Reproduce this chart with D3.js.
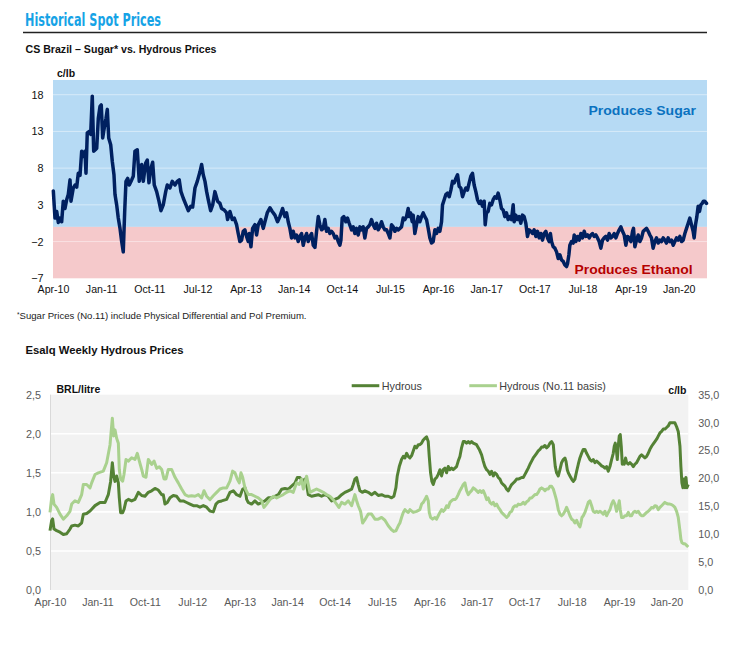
<!DOCTYPE html>
<html><head><meta charset="utf-8">
<script src="https://cdn.jsdelivr.net/npm/d3@7"></script>
<style>
body{margin:0;background:#fff;}
svg{display:block;font-family:"Liberation Sans",Arial,Helvetica,sans-serif;}
</style></head><body>
<svg id="c" width="732" height="647"></svg>
<script>
// ---------- DATA ----------
const tickYears  = [2010.25,2011.0,2011.75,2012.5,2013.25,2014.0,2014.75,2015.5,2016.25,2017.0,2017.75,2018.5,2019.25,2020.0];
const tickLabels = ["Apr-10","Jan-11","Oct-11","Jul-12","Apr-13","Jan-14","Oct-14","Jul-15","Apr-16","Jan-17","Oct-17","Jul-18","Apr-19","Jan-20"];
const sugarTicks = [18,13,8,3,-2,-7];
const brlTicks   = [0,0.5,1,1.5,2,2.5];
const clbTicks   = [0,5,10,15,20,25,30,35];

// Sugar* minus hydrous (c/lb), [decimal year, value]
const sugarPremium = [
[2010.255,4.9],[2010.281,1.2],[2010.308,2.1],[2010.333,0.6],[2010.359,1.2],[2010.385,0.7],[2010.410,3.5],[2010.437,2.5],[2010.463,3.7],[2010.488,4.4],
[2010.515,6.4],[2010.530,3.5],[2010.566,5.3],[2010.593,5.7],[2010.619,5.4],[2010.644,7.3],[2010.671,7.0],[2010.697,10.3],[2010.722,9.6],[2010.748,10.3],
[2010.764,7.3],[2010.784,12.8],[2010.815,13.0],[2010.837,12.6],[2010.862,17.8],[2010.884,10.3],[2010.909,10.5],[2010.931,10.7],[2010.956,14.8],[2010.982,16.4],
[2011.002,16.6],[2011.024,12.1],[2011.049,13.5],[2011.076,14.8],[2011.096,16.0],[2011.118,12.1],[2011.149,11.2],[2011.174,8.9],[2011.200,7.1],[2011.216,4.4],
[2011.242,3.0],[2011.267,1.2],[2011.294,-0.2],[2011.320,-2.0],[2011.345,-3.4],[2011.367,2.1],[2011.387,6.2],[2011.414,6.6],[2011.438,5.7],[2011.476,6.4],
[2011.501,6.9],[2011.527,10.3],[2011.563,10.5],[2011.594,6.2],[2011.632,8.5],[2011.657,6.2],[2011.694,8.7],[2011.719,9.1],[2011.745,6.0],[2011.776,8.0],
[2011.803,8.8],[2011.828,5.7],[2011.865,4.8],[2011.901,3.5],[2011.932,2.2],[2011.968,3.0],[2012.006,4.8],[2012.030,5.7],[2012.072,5.3],[2012.108,6.2],
[2012.150,5.7],[2012.186,6.2],[2012.217,6.4],[2012.244,4.8],[2012.280,3.9],[2012.322,3.0],[2012.358,2.2],[2012.395,2.8],[2012.426,2.7],[2012.462,5.3],
[2012.498,6.2],[2012.540,7.5],[2012.566,8.5],[2012.591,7.1],[2012.618,6.2],[2012.644,4.8],[2012.669,3.7],[2012.706,2.2],[2012.738,3.0],[2012.773,4.8],
[2012.815,3.5],[2012.851,3.2],[2012.877,2.5],[2012.918,2.3],[2012.955,1.9],[2012.970,1.0],[2013.007,2.1],[2013.043,1.0],[2013.074,1.2],[2013.110,0.3],
[2013.136,-0.9],[2013.162,-2.0],[2013.188,-1.8],[2013.214,-0.6],[2013.240,-0.4],[2013.266,-1.3],[2013.292,-2.0],[2013.308,-0.9],[2013.334,-2.7],[2013.360,-0.2],
[2013.396,0.3],[2013.422,-1.1],[2013.448,0.3],[2013.489,1.0],[2013.526,-0.2],[2013.552,0.7],[2013.588,1.9],[2013.630,2.6],[2013.666,2.1],[2013.708,1.6],
[2013.749,0.7],[2013.785,1.4],[2013.827,2.5],[2013.863,1.4],[2013.889,1.9],[2013.915,0.7],[2013.941,-0.2],[2013.967,-1.5],[2013.993,-0.6],[2014.019,-1.5],
[2014.045,-1.1],[2014.071,-2.0],[2014.097,-1.3],[2014.123,-0.9],[2014.149,-2.5],[2014.175,-1.5],[2014.201,-0.9],[2014.227,-2.0],[2014.253,-1.3],[2014.279,-0.9],
[2014.305,-2.5],[2014.331,-2.8],[2014.357,-0.6],[2014.383,1.4],[2014.408,0.3],[2014.434,-0.4],[2014.460,-0.2],[2014.486,1.0],[2014.512,-0.6],[2014.538,-0.2],
[2014.564,-0.9],[2014.590,-0.6],[2014.616,-0.9],[2014.642,-1.5],[2014.668,-1.3],[2014.694,-2.0],[2014.720,-2.5],[2014.736,-1.8],[2014.756,1.2],[2014.782,1.4],
[2014.813,0.7],[2014.839,1.2],[2014.865,0.5],[2014.902,-0.4],[2014.928,0.0],[2014.954,-0.9],[2014.980,-0.2],[2015.006,-1.1],[2015.032,0.0],[2015.057,-0.4],
[2015.083,0.0],[2015.109,-1.5],[2015.135,-0.2],[2015.161,0.0],[2015.187,0.3],[2015.213,1.0],[2015.239,0.3],[2015.265,-0.2],[2015.291,0.5],[2015.317,-0.4],
[2015.343,0.0],[2015.369,0.7],[2015.395,0.0],[2015.421,-0.4],[2015.447,-0.4],[2015.473,-0.9],[2015.499,-1.5],[2015.525,0.3],[2015.551,0.0],[2015.577,-0.6],
[2015.603,-0.2],[2015.629,-0.4],[2015.655,-0.2],[2015.680,0.0],[2015.706,1.2],[2015.732,1.0],[2015.758,1.4],[2015.784,2.5],[2015.800,1.4],[2015.821,1.9],
[2015.847,0.7],[2015.862,1.6],[2015.888,-0.9],[2015.914,0.3],[2015.940,1.4],[2015.966,0.7],[2015.992,1.4],[2016.018,1.9],[2016.044,1.4],[2016.070,1.0],
[2016.096,-0.2],[2016.122,-1.5],[2016.148,-2.2],[2016.174,-2.0],[2016.200,-0.4],[2016.226,-0.9],[2016.252,-0.2],[2016.278,-0.6],[2016.304,0.7],[2016.319,3.0],
[2016.345,3.7],[2016.371,4.4],[2016.397,4.6],[2016.423,4.1],[2016.449,5.0],[2016.475,6.2],[2016.501,6.0],[2016.527,6.6],[2016.553,7.1],[2016.579,5.5],
[2016.605,5.3],[2016.631,4.1],[2016.657,4.8],[2016.683,5.3],[2016.708,5.0],[2016.734,6.0],[2016.760,6.9],[2016.786,7.3],[2016.812,5.7],[2016.838,4.8],
[2016.864,3.7],[2016.890,3.2],[2016.916,3.5],[2016.942,2.8],[2016.968,3.5],[2016.984,0.3],[2017.004,1.9],[2017.030,2.1],[2017.056,3.2],[2017.082,3.0],
[2017.108,3.7],[2017.134,4.1],[2017.160,3.9],[2017.186,4.6],[2017.212,3.7],[2017.238,2.5],[2017.264,2.3],[2017.290,1.4],[2017.316,1.9],[2017.342,1.0],
[2017.368,1.4],[2017.394,1.0],[2017.420,3.0],[2017.435,0.7],[2017.461,1.6],[2017.487,1.0],[2017.513,1.4],[2017.539,0.5],[2017.565,1.6],[2017.591,1.4],
[2017.617,0.5],[2017.643,-1.3],[2017.669,-0.4],[2017.695,-0.6],[2017.721,-0.9],[2017.747,-0.4],[2017.773,-1.3],[2017.799,-0.6],[2017.825,-1.5],[2017.851,-0.9],
[2017.877,-1.8],[2017.903,-0.9],[2017.929,-0.6],[2017.955,-1.5],[2017.981,-2.0],[2018.000,-0.9],[2018.018,-2.0],[2018.044,-2.7],[2018.070,-2.9],[2018.096,-3.4],
[2018.122,-4.3],[2018.148,-3.8],[2018.174,-4.5],[2018.200,-4.7],[2018.226,-5.2],[2018.251,-5.4],[2018.267,-5.0],[2018.288,-3.8],[2018.303,-2.5],[2018.329,-2.0],
[2018.355,-2.2],[2018.371,-1.1],[2018.397,-2.0],[2018.423,-1.3],[2018.449,-1.8],[2018.475,-0.9],[2018.501,-1.5],[2018.527,-0.6],[2018.553,-1.3],[2018.579,-1.1],
[2018.605,-1.5],[2018.630,-1.1],[2018.656,-0.9],[2018.682,-1.3],[2018.708,-1.1],[2018.734,-1.5],[2018.760,-2.0],[2018.786,-2.9],[2018.812,-1.8],[2018.838,-1.5],
[2018.864,-1.3],[2018.890,-1.8],[2018.916,-0.9],[2018.942,-1.5],[2018.968,-1.3],[2018.994,-0.9],[2019.020,-1.5],[2019.046,-0.9],[2019.072,-0.4],[2019.098,0.0],
[2019.124,-0.6],[2019.150,-1.1],[2019.176,-2.5],[2019.202,-1.3],[2019.228,-1.5],[2019.254,-2.0],[2019.280,-0.6],[2019.295,-0.2],[2019.316,-2.7],[2019.342,-1.8],
[2019.368,-1.1],[2019.394,-2.0],[2019.420,-1.5],[2019.446,-0.6],[2019.472,-0.4],[2019.498,-0.2],[2019.524,-0.6],[2019.550,-1.1],[2019.575,-1.5],[2019.601,-2.9],
[2019.627,-2.0],[2019.653,-1.5],[2019.679,-2.2],[2019.705,-1.8],[2019.731,-2.0],[2019.757,-1.5],[2019.783,-1.8],[2019.809,-2.2],[2019.835,-1.5],[2019.861,-2.0],
[2019.887,-1.8],[2019.913,-2.5],[2019.939,-2.0],[2019.965,-1.5],[2019.991,-1.8],[2020.017,-1.3],[2020.043,-2.0],[2020.069,-1.8],[2020.095,-0.9],[2020.121,-0.2],
[2020.147,0.5],[2020.173,1.2],[2020.198,0.3],[2020.224,-0.6],[2020.240,-1.5],[2020.261,0.3],[2020.282,1.4],[2020.302,2.8],[2020.323,2.1],[2020.344,3.0],
[2020.365,3.2],[2020.385,3.5],[2020.406,3.5],[2020.432,3.2]
];

// Esalq hydrous, BRL/litre (left axis)
const hydrousBRL = [
[2010.250,0.76],[2010.276,0.89],[2010.292,0.91],[2010.313,0.78],[2010.355,0.76],[2010.408,0.74],[2010.461,0.71],[2010.514,0.72],[2010.566,0.78],[2010.593,0.82],
[2010.645,0.83],[2010.698,0.82],[2010.751,0.86],[2010.777,0.97],[2010.830,0.98],[2010.883,1.01],[2010.962,1.08],[2011.041,1.12],[2011.120,1.12],[2011.172,1.22],
[2011.209,1.39],[2011.236,1.63],[2011.257,1.46],[2011.278,1.39],[2011.304,1.46],[2011.331,1.37],[2011.346,1.18],[2011.367,0.99],[2011.399,0.99],[2011.420,1.03],
[2011.452,1.14],[2011.489,1.16],[2011.541,1.14],[2011.594,1.16],[2011.647,1.25],[2011.700,1.21],[2011.752,1.20],[2011.805,1.25],[2011.858,1.27],[2011.910,1.30],
[2011.963,1.28],[2012.016,1.22],[2012.042,1.22],[2012.068,1.10],[2012.105,1.12],[2012.148,1.18],[2012.200,1.21],[2012.253,1.20],[2012.306,1.14],[2012.358,1.14],
[2012.411,1.12],[2012.464,1.10],[2012.517,1.08],[2012.569,1.08],[2012.622,1.06],[2012.675,1.08],[2012.727,1.06],[2012.780,1.01],[2012.833,1.00],[2012.875,1.10],
[2012.912,1.13],[2012.965,1.14],[2013.044,1.16],[2013.096,1.25],[2013.149,1.27],[2013.202,1.22],[2013.254,1.20],[2013.297,1.29],[2013.333,1.31],[2013.360,1.16],
[2013.386,1.12],[2013.438,1.10],[2013.491,1.14],[2013.544,1.10],[2013.597,1.12],[2013.649,1.14],[2013.702,1.18],[2013.755,1.18],[2013.807,1.20],[2013.860,1.22],
[2013.913,1.29],[2013.966,1.30],[2014.018,1.29],[2014.071,1.33],[2014.124,1.37],[2014.161,1.44],[2014.203,1.44],[2014.245,1.39],[2014.282,1.42],[2014.308,1.35],
[2014.335,1.22],[2014.387,1.20],[2014.440,1.21],[2014.493,1.22],[2014.545,1.20],[2014.598,1.22],[2014.651,1.20],[2014.704,1.14],[2014.756,1.16],[2014.809,1.18],
[2014.862,1.22],[2014.914,1.25],[2014.967,1.27],[2015.020,1.29],[2015.046,1.35],[2015.072,1.42],[2015.099,1.44],[2015.125,1.35],[2015.152,1.27],[2015.194,1.25],
[2015.231,1.27],[2015.283,1.25],[2015.336,1.22],[2015.389,1.25],[2015.442,1.21],[2015.494,1.22],[2015.547,1.20],[2015.600,1.20],[2015.652,1.18],[2015.689,1.20],
[2015.721,1.31],[2015.742,1.46],[2015.774,1.58],[2015.810,1.67],[2015.837,1.71],[2015.863,1.69],[2015.890,1.75],[2015.916,1.71],[2015.942,1.69],[2015.969,1.72],
[2015.995,1.78],[2016.021,1.84],[2016.048,1.82],[2016.074,1.86],[2016.100,1.86],[2016.127,1.88],[2016.153,1.92],[2016.179,1.94],[2016.206,1.96],[2016.232,1.90],
[2016.248,1.71],[2016.269,1.50],[2016.290,1.39],[2016.311,1.35],[2016.338,1.42],[2016.364,1.44],[2016.390,1.48],[2016.417,1.54],[2016.443,1.46],[2016.469,1.54],
[2016.496,1.56],[2016.522,1.50],[2016.548,1.58],[2016.575,1.54],[2016.601,1.56],[2016.627,1.54],[2016.654,1.56],[2016.680,1.58],[2016.706,1.65],[2016.733,1.71],
[2016.759,1.82],[2016.786,1.90],[2016.812,1.90],[2016.838,1.88],[2016.865,1.90],[2016.891,1.88],[2016.917,1.90],[2016.944,1.88],[2016.996,1.86],[2017.039,1.80],
[2017.076,1.73],[2017.102,1.65],[2017.128,1.58],[2017.155,1.54],[2017.182,1.52],[2017.208,1.48],[2017.234,1.52],[2017.261,1.46],[2017.287,1.50],[2017.314,1.48],
[2017.340,1.44],[2017.366,1.42],[2017.393,1.37],[2017.419,1.35],[2017.445,1.33],[2017.472,1.29],[2017.498,1.27],[2017.524,1.31],[2017.551,1.35],[2017.577,1.37],
[2017.603,1.39],[2017.630,1.42],[2017.656,1.42],[2017.683,1.43],[2017.709,1.44],[2017.735,1.44],[2017.762,1.48],[2017.788,1.52],[2017.814,1.56],[2017.841,1.61],
[2017.867,1.65],[2017.893,1.69],[2017.920,1.72],[2017.946,1.75],[2017.972,1.78],[2017.999,1.80],[2018.025,1.83],[2018.051,1.83],[2018.078,1.85],[2018.104,1.82],
[2018.131,1.84],[2018.157,1.88],[2018.183,1.90],[2018.210,1.86],[2018.225,1.71],[2018.241,1.58],[2018.262,1.50],[2018.289,1.46],[2018.315,1.54],[2018.341,1.63],
[2018.368,1.67],[2018.394,1.69],[2018.410,1.65],[2018.431,1.54],[2018.447,1.50],[2018.473,1.46],[2018.500,1.42],[2018.526,1.39],[2018.552,1.42],[2018.579,1.52],
[2018.605,1.61],[2018.631,1.69],[2018.658,1.75],[2018.684,1.80],[2018.710,1.80],[2018.737,1.75],[2018.763,1.71],[2018.789,1.67],[2018.816,1.65],[2018.842,1.67],
[2018.868,1.63],[2018.895,1.65],[2018.921,1.63],[2018.948,1.61],[2018.974,1.59],[2019.000,1.58],[2019.027,1.56],[2019.053,1.58],[2019.079,1.52],[2019.106,1.58],
[2019.132,1.67],[2019.158,1.75],[2019.174,1.84],[2019.190,1.88],[2019.206,1.80],[2019.222,1.67],[2019.237,1.84],[2019.253,1.97],[2019.269,1.99],[2019.285,1.84],
[2019.301,1.61],[2019.317,1.63],[2019.332,1.61],[2019.353,1.69],[2019.369,1.63],[2019.396,1.61],[2019.422,1.63],[2019.448,1.61],[2019.475,1.58],[2019.501,1.61],
[2019.527,1.63],[2019.554,1.67],[2019.580,1.71],[2019.606,1.73],[2019.633,1.71],[2019.659,1.69],[2019.686,1.71],[2019.712,1.75],[2019.738,1.80],[2019.765,1.84],
[2019.791,1.87],[2019.817,1.90],[2019.844,1.93],[2019.870,1.97],[2019.896,2.01],[2019.923,2.03],[2019.949,2.06],[2019.975,2.06],[2020.002,2.08],[2020.028,2.10],
[2020.054,2.14],[2020.081,2.14],[2020.107,2.14],[2020.133,2.14],[2020.160,2.09],[2020.186,2.03],[2020.213,1.84],[2020.228,1.58],[2020.244,1.37],[2020.260,1.31],
[2020.276,1.42],[2020.292,1.31],[2020.308,1.44],[2020.323,1.31],[2020.344,1.35]
];

// Hydrous on No.11 basis, c/lb (right axis)
const hydrousNo11 = [
[2010.250,13.9],[2010.276,16.5],[2010.292,17.1],[2010.313,15.4],[2010.355,14.8],[2010.408,13.6],[2010.461,12.7],[2010.514,13.3],[2010.566,14.1],[2010.593,15.4],
[2010.645,16.0],[2010.698,15.7],[2010.751,17.1],[2010.777,18.9],[2010.830,18.9],[2010.883,18.3],[2010.909,19.2],[2010.962,20.7],[2011.014,21.0],[2011.093,21.3],
[2011.146,22.8],[2011.199,26.0],[2011.236,30.8],[2011.257,27.6],[2011.278,28.7],[2011.304,27.2],[2011.331,26.3],[2011.346,21.6],[2011.367,19.9],[2011.399,19.5],
[2011.420,20.7],[2011.452,23.4],[2011.489,23.1],[2011.541,23.7],[2011.594,23.4],[2011.631,24.5],[2011.663,23.1],[2011.700,21.6],[2011.726,20.4],[2011.768,20.2],
[2011.805,23.4],[2011.858,22.5],[2011.895,23.1],[2011.937,21.8],[2011.979,22.1],[2012.016,21.6],[2012.053,19.9],[2012.084,19.9],[2012.121,21.6],[2012.174,21.6],
[2012.227,20.2],[2012.279,19.2],[2012.332,18.1],[2012.385,17.1],[2012.437,16.8],[2012.490,16.9],[2012.543,16.8],[2012.596,17.1],[2012.648,16.5],[2012.685,17.8],
[2012.727,16.8],[2012.780,16.2],[2012.833,16.9],[2012.886,17.5],[2012.938,18.1],[2012.991,18.3],[2013.044,18.3],[2013.096,19.5],[2013.138,21.3],[2013.175,21.0],
[2013.212,19.9],[2013.244,19.2],[2013.270,21.0],[2013.297,20.2],[2013.333,18.3],[2013.386,17.1],[2013.438,17.1],[2013.491,16.8],[2013.544,16.5],[2013.597,16.0],
[2013.634,14.8],[2013.676,15.4],[2013.728,16.2],[2013.781,16.8],[2013.834,16.5],[2013.887,16.8],[2013.939,17.1],[2013.992,17.5],[2014.045,17.8],[2014.097,17.5],
[2014.150,19.2],[2014.192,18.9],[2014.229,19.9],[2014.256,18.1],[2014.282,19.2],[2014.308,20.4],[2014.335,18.9],[2014.361,17.5],[2014.414,17.8],[2014.466,18.1],
[2014.519,17.8],[2014.572,17.5],[2014.624,17.1],[2014.677,16.8],[2014.730,16.2],[2014.783,15.4],[2014.819,14.8],[2014.862,15.7],[2014.914,15.4],[2014.967,16.0],
[2015.020,15.1],[2015.072,17.1],[2015.099,16.0],[2015.125,15.1],[2015.162,14.1],[2015.194,12.0],[2015.231,12.6],[2015.283,13.6],[2015.336,13.6],[2015.389,12.7],
[2015.442,12.7],[2015.494,13.0],[2015.547,12.5],[2015.600,11.5],[2015.652,10.8],[2015.689,10.5],[2015.721,10.6],[2015.758,11.5],[2015.784,12.0],[2015.810,13.0],
[2015.837,13.9],[2015.863,14.4],[2015.890,14.1],[2015.916,13.9],[2015.942,14.4],[2015.995,13.9],[2016.048,14.1],[2016.100,14.4],[2016.127,15.4],[2016.153,15.7],
[2016.179,16.2],[2016.206,16.8],[2016.232,16.0],[2016.248,13.9],[2016.269,13.0],[2016.301,12.7],[2016.338,13.0],[2016.364,12.7],[2016.390,13.3],[2016.417,13.9],
[2016.443,14.4],[2016.469,14.1],[2016.496,14.4],[2016.522,15.1],[2016.548,14.8],[2016.575,15.7],[2016.601,16.0],[2016.627,16.2],[2016.654,16.2],[2016.680,16.5],
[2016.706,17.1],[2016.733,17.8],[2016.759,18.3],[2016.786,18.9],[2016.812,19.2],[2016.838,17.8],[2016.865,17.1],[2016.891,17.5],[2016.917,17.8],[2016.944,18.3],
[2016.970,18.1],[2016.996,17.8],[2017.023,17.5],[2017.050,17.8],[2017.076,17.5],[2017.103,17.8],[2017.129,17.1],[2017.155,16.2],[2017.182,16.5],[2017.208,15.7],
[2017.234,15.4],[2017.261,15.7],[2017.287,15.1],[2017.314,15.4],[2017.340,14.8],[2017.366,14.4],[2017.393,13.9],[2017.419,13.6],[2017.445,13.3],[2017.472,13.0],
[2017.498,13.3],[2017.524,13.9],[2017.551,14.1],[2017.577,14.8],[2017.603,15.1],[2017.630,15.0],[2017.656,15.4],[2017.683,15.3],[2017.709,15.4],[2017.735,15.7],
[2017.762,15.4],[2017.788,15.8],[2017.814,16.0],[2017.841,16.5],[2017.867,16.5],[2017.893,16.8],[2017.920,17.1],[2017.946,17.1],[2017.972,17.5],[2017.999,18.1],
[2018.025,18.3],[2018.051,18.1],[2018.078,17.8],[2018.104,18.1],[2018.131,18.1],[2018.157,18.6],[2018.183,18.6],[2018.210,18.1],[2018.236,17.1],[2018.262,16.0],
[2018.289,14.4],[2018.315,13.6],[2018.341,13.3],[2018.368,13.6],[2018.394,14.1],[2018.420,14.8],[2018.447,14.1],[2018.473,13.3],[2018.500,12.7],[2018.526,12.5],
[2018.552,12.0],[2018.579,12.5],[2018.605,11.8],[2018.631,11.3],[2018.647,12.0],[2018.663,13.0],[2018.684,13.3],[2018.710,13.9],[2018.737,14.8],[2018.763,15.7],
[2018.789,16.0],[2018.816,15.1],[2018.842,14.1],[2018.868,13.9],[2018.895,14.1],[2018.921,13.9],[2018.948,14.1],[2018.974,13.9],[2019.000,13.6],[2019.027,14.1],
[2019.053,13.3],[2019.079,13.9],[2019.106,14.4],[2019.132,15.4],[2019.158,16.0],[2019.185,15.4],[2019.211,14.1],[2019.237,15.1],[2019.253,16.0],[2019.269,14.4],
[2019.290,13.0],[2019.317,13.0],[2019.343,13.3],[2019.369,13.3],[2019.396,13.9],[2019.422,13.3],[2019.448,13.3],[2019.475,13.9],[2019.501,14.1],[2019.527,13.9],
[2019.554,14.1],[2019.580,13.6],[2019.606,13.3],[2019.633,13.3],[2019.659,13.6],[2019.686,13.9],[2019.712,14.1],[2019.738,14.4],[2019.765,14.8],[2019.791,14.7],
[2019.817,15.1],[2019.844,15.0],[2019.870,14.4],[2019.896,14.8],[2019.923,15.1],[2019.949,15.4],[2019.975,15.7],[2020.002,15.5],[2020.028,15.4],[2020.054,15.4],
[2020.081,15.3],[2020.107,15.1],[2020.133,14.8],[2020.160,14.1],[2020.186,13.0],[2020.213,10.6],[2020.228,9.1],[2020.244,8.5],[2020.265,8.3],[2020.292,8.3],
[2020.318,8.0],[2020.344,7.7]
];

// ---------- DRAW ----------
const svg = d3.select("#c");
svg.append("rect").attr("width",732).attr("height",647).attr("fill","#fff");

// Header
svg.append("text").attr("x",25).attr("y",25.5)
  .attr("font-family","'Liberation Sans Narrow','Arial Narrow','DejaVu Sans Condensed',sans-serif")
  .attr("font-weight","bold").attr("font-size",17).attr("fill","#16a3e6")
  .attr("textLength",136).attr("lengthAdjust","spacingAndGlyphs")
  .text("Historical Spot Prices");
svg.append("line").attr("x1",23).attr("x2",707).attr("y1",32.5).attr("y2",32.5)
  .attr("stroke","#222").attr("stroke-width",1.3);
svg.append("text").attr("x",25.5).attr("y",53).attr("font-weight","bold").attr("font-size",11.2)
  .attr("fill","#111").attr("textLength",191).attr("lengthAdjust","spacingAndGlyphs")
  .text("CS Brazil \u2013 Sugar* vs. Hydrous Prices");

// ---- Top chart ----
const tL = 53, tR = 707, tT = 80, tB = 278.3;
const xTop = d3.scaleLinear().domain([2010.25, 2020.44]).range([tL, tR]);
const yTop = d3.scaleLinear().domain([-7, 20]).range([tB, tT]);

svg.append("rect").attr("x",tL).attr("y",tT).attr("width",tR-tL).attr("height",yTop(0)-tT).attr("fill","#b6daf4");
svg.append("rect").attr("x",tL).attr("y",yTop(0)).attr("width",tR-tL).attr("height",tB-yTop(0)).attr("fill","#f5c9cb");
svg.append("g").selectAll("line").data(sugarTicks.filter(d=>d>-7)).join("line")
  .attr("x1",tL).attr("x2",tR).attr("y1",d=>yTop(d)).attr("y2",d=>yTop(d))
  .attr("stroke","#fff").attr("stroke-opacity",0.45).attr("stroke-width",1);

const axTopY = svg.append("g").attr("transform",`translate(${tL},0)`)
  .call(d3.axisLeft(yTop).tickValues(sugarTicks).tickSize(0).tickPadding(9.5));
axTopY.select(".domain").remove();
axTopY.selectAll("text").attr("font-size",10.8).attr("fill","#111").attr("font-family","'Liberation Sans',Arial,sans-serif");

const axTopX = svg.append("g").attr("transform",`translate(0,${tB})`)
  .call(d3.axisBottom(xTop).tickValues(tickYears).tickFormat((d,i)=>tickLabels[i]).tickSize(0).tickPadding(7.2));
axTopX.select(".domain").remove();
axTopX.selectAll("text").attr("font-size",10.6).attr("fill","#111").attr("font-family","'Liberation Sans',Arial,sans-serif");

svg.append("path").datum(sugarPremium)
  .attr("d", d3.line().x(d=>xTop(d[0])).y(d=>yTop(d[1])))
  .attr("fill","none").attr("stroke","#002060").attr("stroke-width",3.5)
  .attr("stroke-linejoin","round").attr("stroke-linecap","round");

svg.append("text").attr("x",57).attr("y",77).attr("font-weight","bold").attr("font-size",10.5)
  .attr("fill","#111").text("c/lb");
svg.append("text").attr("x",588.5).attr("y",115).attr("font-weight","bold").attr("font-size",13)
  .attr("fill","#0a72c0").attr("textLength",107.5).attr("lengthAdjust","spacingAndGlyphs").text("Produces Sugar");
svg.append("text").attr("x",574.5).attr("y",273.8).attr("font-weight","bold").attr("font-size",13)
  .attr("fill","#b50000").attr("textLength",118).attr("lengthAdjust","spacingAndGlyphs").text("Produces Ethanol");

// Footnote & second title
const fn = svg.append("text").attr("x",17).attr("y",318.5).attr("font-size",9).attr("fill","#222");
fn.append("tspan").attr("font-size",6.5).attr("dy",-2).text("*");
fn.append("tspan").attr("dy",2).attr("textLength",287).attr("lengthAdjust","spacingAndGlyphs")
  .text("Sugar Prices (No.11) include Physical Differential and Pol Premium.");
svg.append("text").attr("x",25.5).attr("y",353.5).attr("font-weight","bold").attr("font-size",11.2)
  .attr("fill","#111").attr("textLength",158).attr("lengthAdjust","spacingAndGlyphs")
  .text("Esalq Weekly Hydrous Prices");

// ---- Bottom chart ----
const bL = 50, bR = 688.3, bT = 394.7, bB = 590;
const xBot = d3.scaleLinear().domain([2010.25, 2020.345]).range([bL, bR]);
const yBRL = d3.scaleLinear().domain([0, 2.5]).range([bB, bT]);
const yCLB = d3.scaleLinear().domain([0, 35]).range([bB, bT]);

svg.append("rect").attr("x",bL).attr("y",bT).attr("width",bR-bL).attr("height",bB-bT).attr("fill","#f2f2f2");
svg.append("g").selectAll("line").data(brlTicks.filter(d=>d>0 && d<2.5)).join("line")
  .attr("x1",bL).attr("x2",bR).attr("y1",d=>yBRL(d)).attr("y2",d=>yBRL(d))
  .attr("stroke","#fff").attr("stroke-width",1.6);
svg.append("line").attr("x1",bL+0.5).attr("x2",bL+0.5).attr("y1",bT).attr("y2",bB)
  .attr("stroke","#d9d9d9").attr("stroke-width",1);

const fmtComma = d3.format(".1f");
const axBL = svg.append("g").attr("transform",`translate(${bL},0)`)
  .call(d3.axisLeft(yBRL).tickValues(brlTicks).tickSize(0).tickPadding(9).tickFormat(d=>fmtComma(d).replace(".",",")));
axBL.select(".domain").remove();
axBL.selectAll("text").attr("font-size",10.8).attr("fill","#595959").attr("font-family","'Liberation Sans',Arial,sans-serif");

const axBR = svg.append("g").attr("transform",`translate(${bR},0)`)
  .call(d3.axisRight(yCLB).tickValues(clbTicks).tickSize(0).tickPadding(10).tickFormat(d=>fmtComma(d).replace(".",",")));
axBR.select(".domain").remove();
axBR.selectAll("text").attr("font-size",10.8).attr("fill","#595959").attr("font-family","'Liberation Sans',Arial,sans-serif");

const axBX = svg.append("g").attr("transform",`translate(0,${bB})`)
  .call(d3.axisBottom(xBot).tickValues(tickYears).tickFormat((d,i)=>tickLabels[i]).tickSize(0).tickPadding(8.2));
axBX.select(".domain").remove();
axBX.selectAll("text").attr("font-size",10.6).attr("fill","#595959").attr("font-family","'Liberation Sans',Arial,sans-serif");

svg.append("path").datum(hydrousBRL)
  .attr("d", d3.line().x(d=>xBot(d[0])).y(d=>yBRL(d[1])))
  .attr("fill","none").attr("stroke","#548235").attr("stroke-width",3)
  .attr("stroke-linejoin","round");
svg.append("path").datum(hydrousNo11)
  .attr("d", d3.line().x(d=>xBot(d[0])).y(d=>yCLB(d[1])))
  .attr("fill","none").attr("stroke","#a9d18e").attr("stroke-width",3)
  .attr("stroke-linejoin","round");

// axis titles
svg.append("text").attr("x",56.5).attr("y",393).attr("font-weight","bold").attr("font-size",10.5)
  .attr("fill","#111").text("BRL/litre");
svg.append("text").attr("x",668.3).attr("y",393.5).attr("font-weight","bold").attr("font-size",10.5)
  .attr("fill","#111").text("c/lb");

// legend
const legend = [
  {name:"Hydrous", color:"#548235", x:351.7},
  {name:"Hydrous (No.11 basis)", color:"#a9d18e", x:469.3}
];
const lg = svg.append("g").selectAll("g").data(legend).join("g")
  .attr("transform",d=>`translate(${d.x},385.7)`);
lg.append("line").attr("x1",0).attr("x2",27.6).attr("stroke",d=>d.color).attr("stroke-width",3);
lg.append("text").attr("x",30).attr("y",3.8).attr("font-size",10.8).attr("fill","#404040").text(d=>d.name);
</script>
</body></html>
